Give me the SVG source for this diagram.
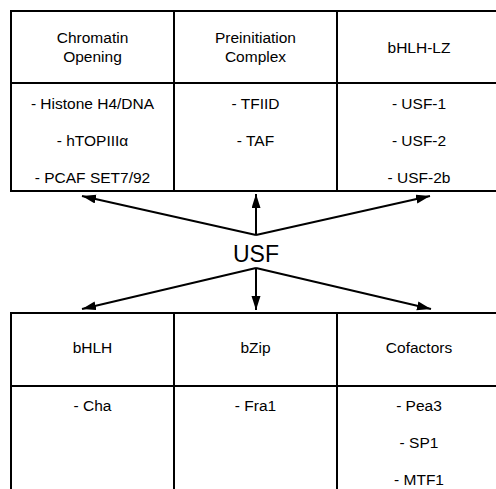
<svg xmlns="http://www.w3.org/2000/svg" width="496" height="489" viewBox="0 0 496 489">
<style>
.t{font-family:"Liberation Sans",Arial,sans-serif;font-size:15.5px;fill:#000;text-anchor:middle}
.u{font-family:"Liberation Sans",Arial,sans-serif;font-size:23px;fill:#000;text-anchor:middle}
.b{fill:none;stroke:#000;stroke-width:2}
.c{fill:none;stroke:#000;stroke-width:2;marker-end:url(#ah)}
</style>
<defs>
<marker id="ah" markerUnits="userSpaceOnUse" markerWidth="15" markerHeight="10" refX="14" refY="4.5" orient="auto">
<path d="M0,0 L14,4.5 L0,9 z" fill="#000"/>
</marker>
</defs>
<rect width="496" height="489" fill="#fff"/>
<g id="top-table">
<g id="chromatin-opening">
<path class="b" d="M11,11 H174 V191 H11 Z M11,83 H174"/>
<text class="t" x="92.5" y="43">Chromatin</text>
<text class="t" x="92.5" y="62">Opening</text>
<text class="t" x="92.5" y="109">- Histone H4/DNA</text>
<text class="t" x="92.5" y="146">- hTOPIIIα</text>
<text class="t" x="92.5" y="183">- PCAF SET7/92</text>
</g>
<g id="preinitiation-complex">
<path class="b" d="M174,11 H337 V191 H174 M174,83 H337"/>
<text class="t" x="255.5" y="43">Preinitiation</text>
<text class="t" x="255.5" y="62">Complex</text>
<text class="t" x="255.5" y="109">- TFIID</text>
<text class="t" x="255.5" y="146">- TAF</text>
</g>
<g id="bhlh-lz">
<path class="b" d="M337,11 H500 M337,191 H500 M337,83 H500"/>
<text class="t" x="419" y="53">bHLH-LZ</text>
<text class="t" x="419" y="109">- USF-1</text>
<text class="t" x="419" y="146">- USF-2</text>
<text class="t" x="419" y="183">- USF-2b</text>
</g>
</g>
<g id="usf">
<text class="u" x="256" y="262">USF</text>
</g>
<g id="connectors">
<path class="c" d="M256,235 L82,196"/>
<path class="c" d="M256,235 L256,194"/>
<path class="c" d="M256,235 L430,196"/>
<path class="c" d="M256,268 L82,309"/>
<path class="c" d="M256,268 L256,310"/>
<path class="c" d="M256,268 L431,309"/>
</g>
<g id="bottom-table">
<g id="bhlh">
<path class="b" d="M11,495 V313 H174 V495 M11,386 H174"/>
<text class="t" x="92.5" y="353">bHLH</text>
<text class="t" x="92.5" y="411">- Cha</text>
</g>
<g id="bzip">
<path class="b" d="M174,313 H337 V495 M174,386 H337"/>
<text class="t" x="255.5" y="353">bZip</text>
<text class="t" x="255.5" y="411">- Fra1</text>
</g>
<g id="cofactors">
<path class="b" d="M337,313 H500 M337,386 H500"/>
<text class="t" x="419" y="353">Cofactors</text>
<text class="t" x="419" y="411">- Pea3</text>
<text class="t" x="419" y="448">- SP1</text>
<text class="t" x="419" y="485">- MTF1</text>
</g>
</g>
</svg>
